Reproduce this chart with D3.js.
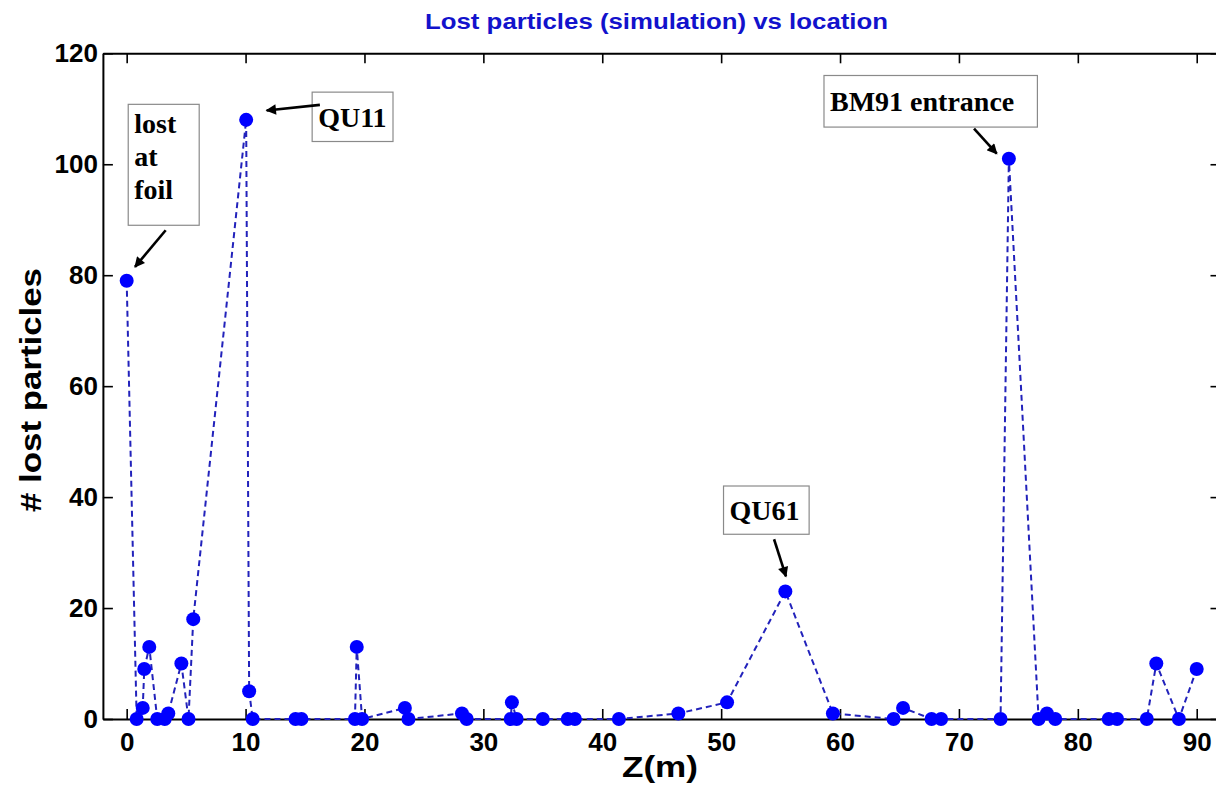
<!DOCTYPE html>
<html>
<head>
<meta charset="utf-8">
<script src="https://cdn.jsdelivr.net/npm/d3@7"></script>
<style>
  html, body { margin: 0; padding: 0; background: #ffffff; }
  svg { display: block; }
</style>
</head>
<body>
<svg id="chart" width="1216" height="787"></svg>
<script>
// ---------------- data ----------------
const zPos = [0, 0.84, 1.35, 1.48, 1.9, 2.57, 3.2, 3.5, 4.6, 5.2,
              5.6, 10.05, 10.3, 10.6, 14.2, 14.7, 19.2, 19.35, 19.8, 23.4,
              23.7, 28.2, 28.6, 32.3, 32.4, 32.8, 35.0, 37.1, 37.7, 41.4,
              46.4, 50.5, 55.4, 59.4, 64.5, 65.3, 67.7, 68.5, 73.5, 74.2,
              76.7, 77.4, 78.1, 82.6, 83.3, 85.8, 86.6, 88.5, 90.0];
const lostCount = [79, 0, 2, 9, 13, 0, 0, 1, 10, 0,
                   18, 108, 5, 0, 0, 0, 0, 13, 0, 2,
                   0, 1, 0, 0, 3, 0, 0, 0, 0, 0,
                   1, 3, 23, 1, 0, 2, 0, 0, 0, 101,
                   0, 1, 0, 0, 0, 0, 10, 0, 9];
const xTicks = [0, 10, 20, 30, 40, 50, 60, 70, 80, 90];
const yTicks = [0, 20, 40, 60, 80, 100, 120];
const xDomain = [-2, 92];
const yDomain = [0, 120];

const titleText = "Lost particles (simulation) vs location";
const xLabelText = "Z(m)";
const yLabelText = "# lost particles";

// annotation labels (box corners and arrow ends in data units)
const annLines  = [["lost", "at", "foil"], ["QU11"], ["QU61"], ["BM91 entrance"]];
const annBoxX   = [[0.13, 6.1], [15.6, 22.4], [50.2, 57.4], [58.65, 76.6]];
const annBoxY   = [[110.8, 89.0], [113.0, 104.1], [42.0, 33.3], [116.0, 106.7]];
const annArrowX = [[3.28, 0.70], [16.25, 11.77], [54.45, 55.45], [71.27, 73.18]];
const annArrowY = [[88.1, 81.5], [110.7, 109.7], [32.4, 25.7], [106.4, 101.9]];

// ---------------- layout ----------------
const svg = d3.select("#chart");
const plotLeft = 102.9, plotRight = 1220.5, plotTop = 53.3, plotBottom = 719;

const x = d3.scaleLinear().domain(xDomain).range([plotLeft, plotRight]);
const y = d3.scaleLinear().domain(yDomain).range([plotBottom, plotTop]);

svg.append("rect").attr("width", 1216).attr("height", 787).attr("fill", "#ffffff");

const sansFont = "'Liberation Sans', Arial, Helvetica, sans-serif";
const serifFont = "'Liberation Serif', 'Times New Roman', serif";

// title
svg.append("text")
  .attr("x", 656.5).attr("y", 29)
  .attr("text-anchor", "middle")
  .attr("font-family", sansFont).attr("font-weight", "bold")
  .attr("font-size", 22.5)
  .attr("fill", "#1212cc")
  .attr("textLength", 463).attr("lengthAdjust", "spacingAndGlyphs")
  .text(titleText);

// axes
function styleAxis(g) {
  g.selectAll("path.domain").attr("stroke", "#000").attr("stroke-width", 2);
  g.selectAll(".tick line").attr("stroke", "#000").attr("stroke-width", 1.6);
  g.selectAll(".tick text")
    .attr("font-family", sansFont).attr("font-weight", "bold")
    .attr("font-size", 26).attr("fill", "#000");
}

svg.append("g").attr("transform", `translate(0,${plotBottom})`)
  .call(d3.axisBottom(x).tickValues(xTicks).tickSize(-10).tickSizeOuter(0).tickPadding(14))
  .call(styleAxis);
svg.append("g").attr("transform", `translate(0,${plotTop})`)
  .call(d3.axisTop(x).tickValues(xTicks).tickSize(-10).tickSizeOuter(0).tickFormat(""))
  .call(styleAxis);
svg.append("g").attr("transform", `translate(${plotLeft},0)`)
  .call(d3.axisLeft(y).tickValues(yTicks).tickSize(-10).tickSizeOuter(0).tickPadding(5))
  .call(styleAxis);
svg.append("g").attr("transform", `translate(${plotRight},0)`)
  .call(d3.axisRight(y).tickValues(yTicks).tickSize(-10).tickSizeOuter(0).tickFormat(""))
  .call(styleAxis);

// axis labels
svg.append("text")
  .attr("x", 660).attr("y", 777)
  .attr("text-anchor", "middle")
  .attr("font-family", sansFont).attr("font-weight", "bold")
  .attr("font-size", 29).attr("fill", "#000")
  .attr("textLength", 76).attr("lengthAdjust", "spacingAndGlyphs")
  .text(xLabelText);

svg.append("text")
  .attr("transform", "translate(41,390) rotate(-90)")
  .attr("text-anchor", "middle")
  .attr("font-family", sansFont).attr("font-weight", "bold")
  .attr("font-size", 29).attr("fill", "#000")
  .attr("textLength", 244).attr("lengthAdjust", "spacingAndGlyphs")
  .text(yLabelText);

// data line + markers
const pts = zPos.map((z, i) => [z, lostCount[i]]);
const line = d3.line().x(d => x(d[0])).y(d => y(d[1]));

const plot = svg.append("g");
plot.append("path")
  .datum(pts)
  .attr("d", line)
  .attr("fill", "none")
  .attr("stroke", "#2222bb")
  .attr("stroke-width", 2)
  .attr("stroke-dasharray", "6,4");

plot.selectAll("circle.pt")
  .data(pts)
  .enter().append("circle")
  .attr("class", "pt")
  .attr("cx", d => x(d[0]))
  .attr("cy", d => y(d[1]))
  .attr("r", 7)
  .attr("fill", "#0000ff");

// annotations
const defs = svg.append("defs");
defs.append("marker")
  .attr("id", "arrowhead")
  .attr("viewBox", "0 0 10 10")
  .attr("refX", 9).attr("refY", 5)
  .attr("markerWidth", 5).attr("markerHeight", 4)
  .attr("markerUnits", "strokeWidth")
  .attr("orient", "auto")
  .append("path")
  .attr("d", "M0,0 L10,5 L0,10 Z")
  .attr("fill", "#000");

const annG = svg.append("g");
annLines.forEach((lines, i) => {
  const bx0 = x(annBoxX[i][0]), bx1 = x(annBoxX[i][1]);
  const by0 = y(annBoxY[i][0]), by1 = y(annBoxY[i][1]);
  annG.append("rect")
    .attr("x", bx0).attr("y", by0)
    .attr("width", bx1 - bx0).attr("height", by1 - by0)
    .attr("fill", "#ffffff")
    .attr("stroke", "#8a8a8a").attr("stroke-width", 1.2);
  const t = annG.append("text")
    .attr("font-family", serifFont).attr("font-weight", "bold")
    .attr("font-size", 28).attr("fill", "#000");
  lines.forEach((ln, k) => {
    t.append("tspan")
      .attr("x", bx0 + 6)
      .attr("y", by0 + (lines.length > 1 ? 29 + k * 33 : (by1 - by0) / 2 + 10))
      .text(ln);
  });
  annG.append("line")
    .attr("x1", x(annArrowX[i][0])).attr("y1", y(annArrowY[i][0]))
    .attr("x2", x(annArrowX[i][1])).attr("y2", y(annArrowY[i][1]))
    .attr("stroke", "#000").attr("stroke-width", 2.6)
    .attr("marker-end", "url(#arrowhead)");
});
</script>
</body>
</html>
